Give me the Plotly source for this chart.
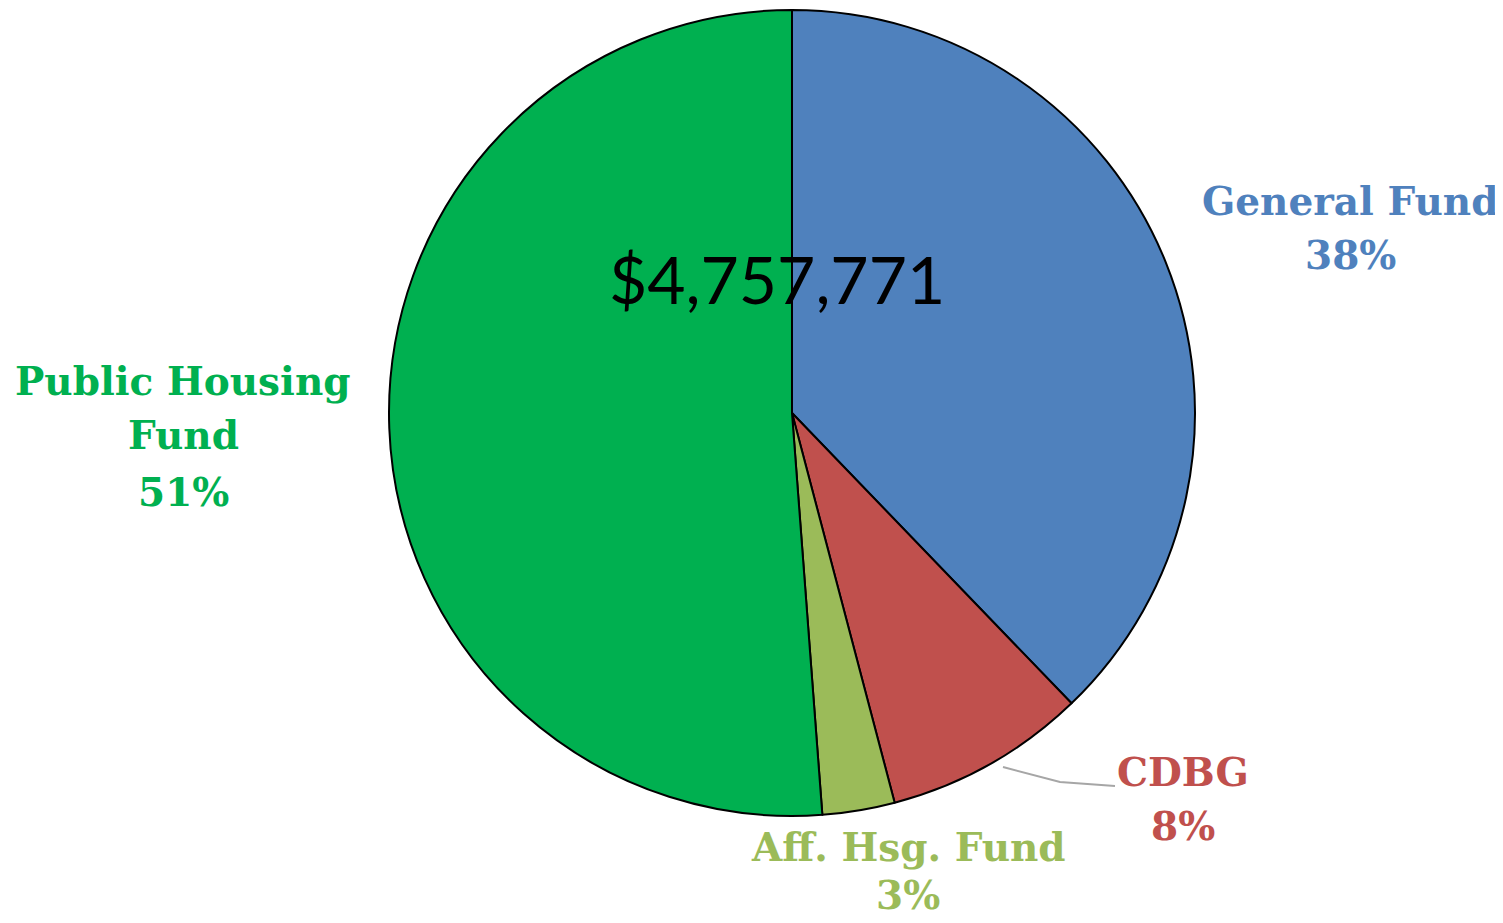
import plotly.graph_objects as go

# The page body has an 8px margin, so figure coords = picture coords - 8
OFF = 8
W, H = 1503 - OFF, 923 - OFF

categories = ["General Fund", "CDBG", "Aff. Hsg. Fund", "Public Housing Fund"]
shares = [37.8, 8.1, 2.9, 51.2]
pct_labels = ["38%", "8%", "3%", "51%"]
colors = ["#4F81BD", "#C0504D", "#9BBB59", "#00B050"]
total_label = "$4,757,771"

cx, cy, r = 792 - OFF, 413 - OFF, 403

fig = go.Figure(go.Pie(
    labels=categories, values=shares, sort=False, direction="clockwise", rotation=0,
    marker=dict(colors=colors, line=dict(color="#000000", width=2)),
    textinfo="none", hoverinfo="label+percent", showlegend=False,
    domain=dict(x=[(cx - r) / W, (cx + r) / W], y=[(H - cy - r) / H, (H - cy + r) / H]),
))

def px(x, y):
    return (x - OFF) / W, 1 - (y - OFF) / H

# (line text lines, x center, y centers) in picture pixels
label_lines = {
    "General Fund": (["General Fund"], 1350, [201]),
    "CDBG": (["CDBG"], 1183, [772]),
    "Aff. Hsg. Fund": (["Aff. Hsg. Fund"], 908, [847]),
    "Public Housing Fund": (["Public Housing", "Fund"], 183, [381, 435]),
}
pct_y = {"General Fund": 255, "CDBG": 826, "Aff. Hsg. Fund": 895, "Public Housing Fund": 492}

annotations = []
for cat, pct, col in zip(categories, pct_labels, colors):
    lines, x, ys = label_lines[cat]
    items = list(zip(lines, ys)) + [(pct, pct_y[cat])]
    for txt, y in items:
        ax, ay = px(x, y)
        annotations.append(dict(
            x=ax, y=ay, xref="paper", yref="paper", xanchor="center", yanchor="middle",
            text=f"<b>{txt}</b>", showarrow=False, align="center",
            font=dict(family="DejaVu Serif", size=39, color=col),
        ))

tx, ty = px(777, 278)
annotations.append(dict(
    x=tx, y=ty, xref="paper", yref="paper", xanchor="center", yanchor="middle",
    text=total_label, showarrow=False,
    font=dict(family="Lato", size=66, color="#000000"),
))

p1 = px(1003, 767); p2 = px(1060, 782); p3 = px(1115, 786)
shapes = [dict(
    type="path", xref="paper", yref="paper",
    path=f"M {p1[0]} {p1[1]} L {p2[0]} {p2[1]} L {p3[0]} {p3[1]}",
    line=dict(color="#A6A6A6", width=2),
)]

fig.update_layout(
    width=W, height=H, margin=dict(l=0, r=0, t=0, b=0),
    paper_bgcolor="white", plot_bgcolor="white",
    annotations=annotations, shapes=shapes,
)

fig.write_html("out.html")
